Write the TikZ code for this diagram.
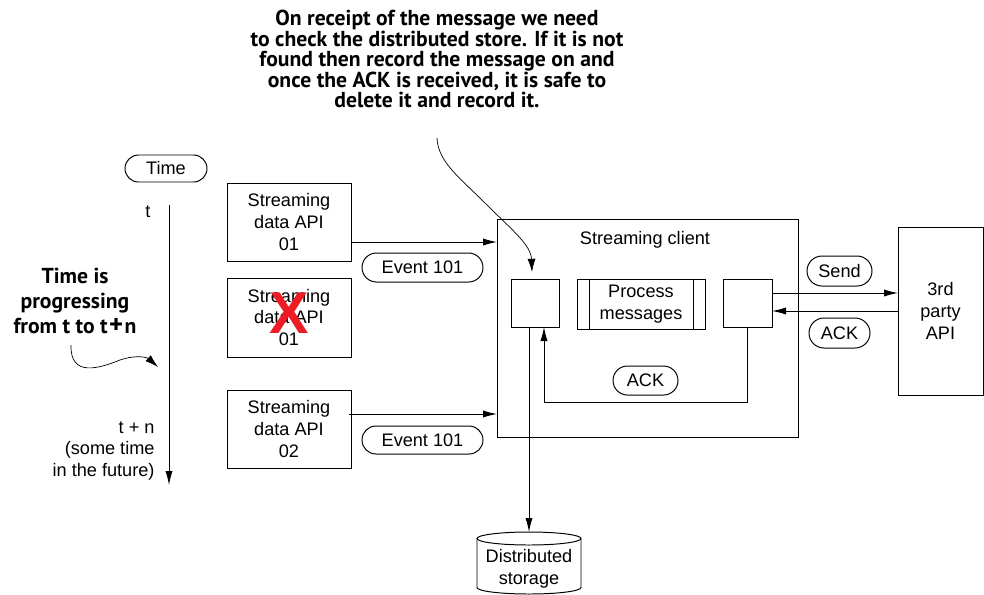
\documentclass[tikz,border=0pt]{standalone}
\usepackage{fontspec}
\setmainfont{Liberation Sans}
\newfontfamily\notefont{PT Sans}
\usetikzlibrary{arrows.meta,calc,shapes.misc}

\newcommand\pxu{0.25mm}
\newcommand\bodyfont{\fontsize{12.9}{15.4}\selectfont}
\newcommand\callfont{\notefont\bfseries\fontsize{15.4}{14.6}\selectfont}
\definecolor{xred}{RGB}{237,28,36}

\tikzset{
  box/.style={draw,rectangle,inner sep=0pt,outer sep=0pt,align=center},
  pill/.style={draw,rounded rectangle,inner sep=0pt,outer sep=0pt},
  flow/.style={-{Latex[length=3.5mm,width=1.8mm]}},
  noteflow/.style={line width=0.5pt,-{Latex[length=3.3mm,width=2mm]}},
}

\begin{document}
\begin{tikzpicture}[x=0.25mm,y=-0.25mm,line width=0.7pt,font=\bodyfont]
  \useasboundingbox (0,0) rectangle (984,594);

  % time axis on the left
  \node[pill,minimum width=82*\pxu,minimum height=27*\pxu] (time) at (166,168.5) {Time};
  \coordinate (tstart) at (169,205);
  \coordinate (tend) at (169,485);
  \draw[flow] (tstart) -- (tend);
  \node (tnow) at (148,212) {t};
  \node[anchor=east,align=right,inner sep=0pt] (tlater) at (155,451) {t + n\\(some time\\in the future)};
  \node[font=\notefont\bfseries\fontsize{15.4}{17.7}\selectfont,align=center] (progress) at (75,301)
    {Time is\\progressing\\from t to t{\kern1pt}{\fontsize{19}{17.7}\selectfont+}{\kern1pt}n};
  \coordinate (curvefrom) at (71,345);
  \coordinate (curveto) at (158,367);
  \draw[noteflow] (curvefrom) .. controls (70,378) and (100,368) .. (120,360)
    .. controls (138,354) and (148,358) .. (curveto);

  % streaming sources
  \node[box,minimum width=124*\pxu,minimum height=78*\pxu] (api01) at (289,222) {Streaming\\data API\\01};
  \node[box,minimum width=124*\pxu,minimum height=79*\pxu] (apidown) at (289,317.5) {Streaming\\data API\\01};
  \node[text=xred,font=\bfseries\fontsize{42}{42}\selectfont,inner sep=0pt] (cross) at (289,313) {X};
  \node[box,minimum width=124*\pxu,minimum height=78*\pxu] (api02) at (289,429) {Streaming\\data API\\02};
  \node[pill,minimum width=121*\pxu,minimum height=29*\pxu] (ev1) at (422.5,267.5) {Event 101};
  \node[pill,minimum width=121*\pxu,minimum height=28*\pxu] (ev2) at (422.5,440) {Event 101};

  % streaming client
  \node[box,minimum width=301*\pxu,minimum height=218*\pxu] (client) at (647.5,328) {};
  \node (title) at (645,240) {Streaming client};
  \node[box,minimum width=48*\pxu,minimum height=48*\pxu] (inbox) at (535,303) {};
  \node[box,minimum width=128*\pxu,minimum height=50*\pxu] (proc) at (641,304) {Process\\messages};
  \draw ($(proc.north west)+(12,0)$) -- ($(proc.south west)+(12,0)$);
  \draw ($(proc.north east)+(-12,0)$) -- ($(proc.south east)+(-12,0)$);
  \node[box,minimum width=49*\pxu,minimum height=48*\pxu] (outbox) at (747.5,303) {};
  \node[pill,minimum width=65*\pxu,minimum height=29*\pxu] (ackin) at (645.5,380.5) {ACK};
  \draw[flow] (outbox.south) -- ++(0,75) -| ($(inbox.south)+(9,0)$);

  % third party
  \node[box,minimum width=85*\pxu,minimum height=168*\pxu] (party) at (940.5,311) {3rd\\party\\API};
  \node[pill,minimum width=65*\pxu,minimum height=30*\pxu] (send) at (839.5,271) {Send};
  \node[pill,minimum width=61*\pxu,minimum height=30*\pxu] (ackout) at (839.5,333) {ACK};
  \coordinate (sendfrom) at ($(outbox.east)+(0,-10)$);
  \coordinate (ackfrom) at ($(outbox.east)+(0,8)$);
  \draw[flow] (sendfrom) -- (sendfrom -| party.west);
  \draw[flow] (ackfrom -| party.west) -- (ackfrom);

  % storage drum
  \node[minimum width=104*\pxu,minimum height=62*\pxu,inner sep=0pt,outer sep=0pt] (store) at (529,563) {};
  \draw ($(store.north)+(0,6.5)$) ellipse [x radius=13mm,y radius=1.625mm];
  \draw ($(store.north west)+(0,6.5)$) -- ($(store.south west)+(0,-6.5)$)
    arc[start angle=180,end angle=360,x radius=13mm,y radius=1.625mm] -- ($(store.north east)+(0,6.5)$);
  \node[align=center,inner sep=0pt] (storetext) at (529,568.5) {Distributed\\storage};
  \draw[flow] (store.north |- inbox.south) -- (store.north);

  % source events
  \coordinate (ev1from) at ($(api01.east)+(0,20)$);
  \coordinate (ev2from) at ($(api02.east)+(-2,-15)$);
  \draw[flow] (ev1from) -- (ev1from -| client.west);
  \draw[flow] (ev2from) -- (ev2from -| client.west);

  % callout
  \node[font=\callfont,align=center] (callout) at (437,59)
    {On receipt of the message we need\\to check the distributed store. If it is not\\found then record the message on and\\once the ACK is received, it is safe to\\delete it and record it.};
  \coordinate (callfrom) at (437,138);
  \coordinate (callto) at (532,272);
  \draw[noteflow] (callfrom) .. controls (438,162) and (460,178) .. (485,203)
    .. controls (512,230) and (531,245) .. (callto);
\end{tikzpicture}
\end{document}
